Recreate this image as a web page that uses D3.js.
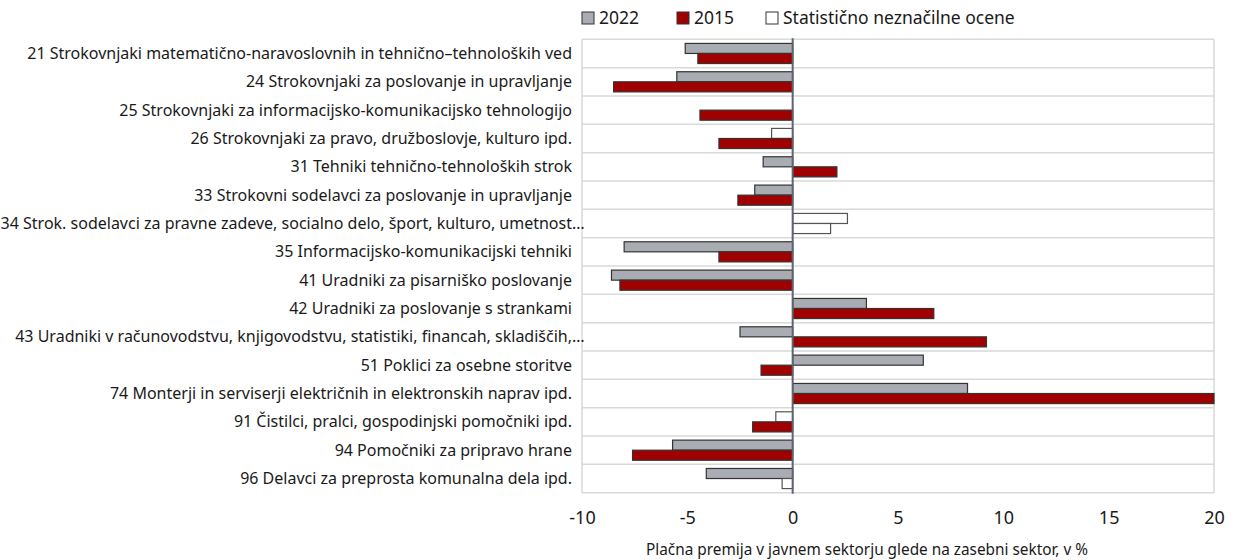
<!DOCTYPE html>
<html><head><meta charset="utf-8">
<script src="https://cdn.jsdelivr.net/npm/d3@7"></script>
<style>
html,body{margin:0;padding:0;background:#fff;}
svg{display:block;font-family:"Noto Sans","Open Sans",sans-serif;}
</style></head>
<body>
<svg id="c" width="1235" height="560"></svg>
<script>
const categories = [
  "21 Strokovnjaki matematično-naravoslovnih in tehnično–tehnoloških ved",
  "24 Strokovnjaki za poslovanje in upravljanje",
  "25 Strokovnjaki za informacijsko-komunikacijsko tehnologijo",
  "26 Strokovnjaki za pravo, družboslovje, kulturo ipd.",
  "31 Tehniki tehnično-tehnoloških strok",
  "33 Strokovni sodelavci za poslovanje in upravljanje",
  "34 Strok. sodelavci za pravne zadeve, socialno delo, šport, kulturo, umetnost…",
  "35 Informacijsko-komunikacijski tehniki",
  "41 Uradniki za pisarniško poslovanje",
  "42 Uradniki za poslovanje s strankami",
  "43 Uradniki v računovodstvu, knjigovodstvu, statistiki, financah, skladiščih,…",
  "51 Poklici za osebne storitve",
  "74 Monterji in serviserji električnih in elektronskih naprav ipd.",
  "91 Čistilci, pralci, gospodinjski pomočniki ipd.",
  "94 Pomočniki za pripravo hrane",
  "96 Delavci za preprosta komunalna dela ipd."
];
const values2022 = [-5.1, -5.5, null, -1.0, -1.4, -1.8, 2.6, -8.0, -8.6, 3.5, -2.5, 6.2, 8.3, -0.8, -5.7, -4.1];
const values2015 = [-4.5, -8.5, -4.4, -3.5, 2.1, -2.6, 1.8, -3.5, -8.2, 6.7, 9.2, -1.5, 20.0, -1.9, -7.6, -0.5];
const insignificant2022 = [0,0,0,1,0,0,1,0,0,0,0,0,0,1,0,0];
const insignificant2015 = [0,0,0,0,0,0,1,0,0,0,0,0,0,0,0,1];
const xTicks = [-10, -5, 0, 5, 10, 15, 20];
const seriesNames = ["2022", "2015", "Statistično neznačilne ocene"];
const axisTitle = "Plačna premija v javnem sektorju glede na zasebni sektor, v %";

const colors = {s2022: "#a9adb3", s2015: "#a00000", insig: "#ffffff"};

const svg = d3.select("#c");
const L = 582, R = 1214, T = 39.3, B = 492.7;
const x = d3.scaleLinear().domain([-10, 20]).range([L, R]);
const y = d3.scaleBand().domain(d3.range(categories.length)).range([T, B]).padding(0);
const bw = y.bandwidth();
const barH = bw * 0.355;

// gridlines between categories
const g = svg.append("g");
g.selectAll("line.h").data(d3.range(categories.length + 1)).join("line")
  .attr("x1", L).attr("x2", R)
  .attr("y1", i => i < categories.length ? y(i) : B)
  .attr("y2", i => i < categories.length ? y(i) : B)
  .attr("stroke", "#d9d9d9").attr("stroke-width", 1.5);
[L, R].forEach(xx => g.append("line").attr("x1", xx).attr("x2", xx).attr("y1", T).attr("y2", B)
  .attr("stroke", "#d9d9d9").attr("stroke-width", 1.5));

function bars(vals, insig, fill, off) {
  svg.append("g").selectAll("rect").data(vals.map((v, i) => ({v, i, ins: insig[i]})).filter(d => d.v !== null))
    .join("rect")
    .attr("x", d => x(Math.min(0, d.v)))
    .attr("width", d => Math.abs(x(d.v) - x(0)))
    .attr("y", d => y(d.i) + bw / 2 + off)
    .attr("height", barH)
    .attr("fill", d => d.ins ? colors.insig : fill)
    .attr("stroke", d => d.ins ? "#555" : "#333")
    .attr("stroke-width", 1.2);
}
bars(values2022, insignificant2022, colors.s2022, -barH);
bars(values2015, insignificant2015, colors.s2015, 0);

// zero line
svg.append("line").attr("x1", x(0)).attr("x2", x(0)).attr("y1", T - 1).attr("y2", B + 1)
  .attr("stroke", "#5e646c").attr("stroke-width", 2);

// category labels
const lab = svg.append("g").attr("font-size", 16).attr("fill", "#1a1a1a");
categories.forEach((c, i) => {
  const ell = c.endsWith("…");
  const txt = ell ? c.slice(0, -1) : c;
  lab.append("text").attr("x", 572).attr("y", y(i) + bw / 2).attr("dy", "0.35em")
    .attr("text-anchor", "end").text(txt);
  if (ell) lab.append("text").attr("x", 572).attr("y", y(i) + bw / 2).attr("dy", "0.35em")
    .attr("text-anchor", "start").text("…");
});

// x axis tick labels
const ax = svg.append("g").attr("transform", `translate(0,${B})`)
  .call(d3.axisBottom(x).tickValues(xTicks).tickSize(0).tickPadding(19).tickFormat(d => String(d)));
ax.select(".domain").remove();
ax.selectAll("text").attr("font-size", 18).attr("fill", "#1a1a1a").attr("font-family", "'Noto Sans', sans-serif");

svg.append("text").attr("x", 646).attr("y", 555).attr("text-anchor", "start")
  .attr("font-size", 17).attr("fill", "#1a1a1a")
  .attr("textLength", 442).attr("lengthAdjust", "spacingAndGlyphs").text(axisTitle);

// legend
const leg = svg.append("g").attr("font-size", 17.5).attr("fill", "#1a1a1a");
const legItems = [
  {name: seriesNames[0], fill: colors.s2022, x: 582},
  {name: seriesNames[1], fill: colors.s2015, x: 677},
  {name: seriesNames[2], fill: colors.insig, x: 766}
];
legItems.forEach(d => {
  leg.append("rect").attr("x", d.x).attr("y", 12).attr("width", 12).attr("height", 12)
    .attr("fill", d.fill).attr("stroke", "#333").attr("stroke-width", 1);
  leg.append("text").attr("x", d.x + 17).attr("y", 18).attr("dy", "0.36em").text(d.name);
});
</script>
</body></html>
